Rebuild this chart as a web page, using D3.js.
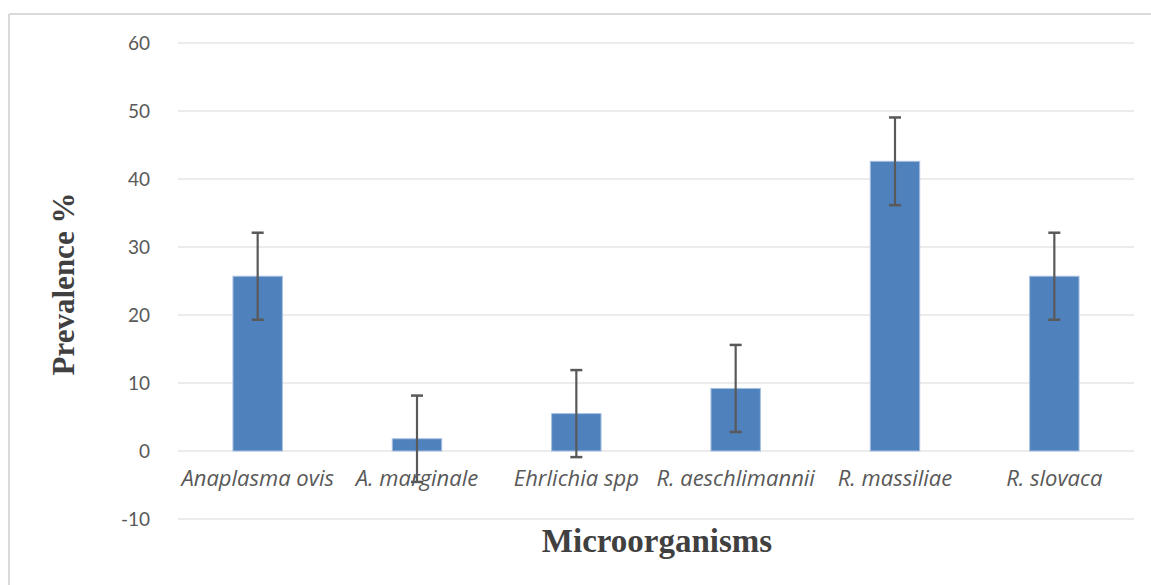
<!DOCTYPE html>
<html>
<head>
<meta charset="utf-8">
<script src="https://cdn.jsdelivr.net/npm/d3@7"></script>
<style>
  html, body { margin: 0; padding: 0; background: #fff; }
  svg { display: block; }
</style>
</head>
<body>
<svg id="chart" width="1151" height="585"></svg>
<script>
const categories = ["Anaplasma ovis", "A. marginale", "Ehrlichia spp", "R. aeschlimannii", "R. massiliae", "R. slovaca"];
const prevalence = [25.7, 1.8, 5.5, 9.2, 42.6, 25.7];
const errorMargin = [6.4, 6.35, 6.4, 6.4, 6.45, 6.4];
const yTicks = [-10, 0, 10, 20, 30, 40, 50, 60];
const xTitle = "Microorganisms";
const yTitle = "Prevalence %";

const svg = d3.select("#chart");
const W = 1151, H = 585;
const margin = { left: 178, right: 1134, top: 43, bottom: 519 };

// outer chart frame
svg.append("line").attr("x1", 9).attr("x2", W).attr("y1", 14).attr("y2", 14)
  .attr("stroke", "#d9d9d9").attr("stroke-width", 2);
svg.append("line").attr("x1", 9).attr("x2", 9).attr("y1", 14).attr("y2", H)
  .attr("stroke", "#d9d9d9").attr("stroke-width", 2);

const x = d3.scaleBand().domain(categories).range([margin.left, margin.right]).paddingInner(0.69).paddingOuter(0.345);
const y = d3.scaleLinear().domain([-10, 60]).range([margin.bottom, margin.top]);

// gridlines
svg.append("g").selectAll("line").data(yTicks).join("line")
  .attr("x1", margin.left).attr("x2", margin.right)
  .attr("y1", d => y(d)).attr("y2", d => y(d))
  .attr("stroke", "#d9d9d9").attr("stroke-width", 1);

// y axis labels
const yAxis = d3.axisLeft(y).tickValues(yTicks).tickSize(0).tickPadding(0).tickFormat(d => String(d));
const gy = svg.append("g").attr("transform", "translate(150,0)").call(yAxis);
gy.select(".domain").remove();
gy.selectAll("text").attr("font-family", "Lato, 'Open Sans', sans-serif").attr("font-size", 19)
  .attr("fill", "#595959");

// bars
svg.append("g").selectAll("rect").data(categories).join("rect")
  .attr("x", d => x(d))
  .attr("width", x.bandwidth())
  .attr("y", (d, i) => Math.min(y(prevalence[i]), y(0)))
  .attr("height", (d, i) => Math.abs(y(0) - y(prevalence[i])))
  .attr("fill", "#4f81bd")
  .attr("stroke", "#a7bfe0").attr("stroke-width", 1);

// error bars
const eg = svg.append("g").attr("stroke", "#595959").attr("stroke-width", 2.2);
categories.forEach((c, i) => {
  const cx = x(c) + x.bandwidth() / 2;
  const hi = y(prevalence[i] + errorMargin[i]);
  const lo = y(prevalence[i] - errorMargin[i]);
  eg.append("line").attr("x1", cx).attr("x2", cx).attr("y1", hi).attr("y2", lo);
  eg.append("line").attr("x1", cx - 6).attr("x2", cx + 6).attr("y1", hi).attr("y2", hi).attr("stroke-width", 2.5);
  eg.append("line").attr("x1", cx - 6).attr("x2", cx + 6).attr("y1", lo).attr("y2", lo).attr("stroke-width", 2.5);
});

// category labels
const xAxis = d3.axisBottom(x).tickSize(0).tickPadding(0);
const gx = svg.append("g").attr("transform", "translate(0,470)").call(xAxis);
gx.select(".domain").remove();
gx.selectAll("text").attr("font-family", "'Open Sans', Lato, sans-serif").attr("font-size", 22)
  .attr("font-style", "italic").attr("fill", "#595959");

// axis titles
svg.append("text").attr("x", 657).attr("y", 552).attr("text-anchor", "middle")
  .attr("font-family", "'Liberation Serif', 'Times New Roman', serif").attr("font-weight", "bold")
  .attr("font-size", 33).attr("fill", "#404040").text(xTitle);
svg.append("text").attr("transform", "translate(74,284) rotate(-90)").attr("text-anchor", "middle")
  .attr("font-family", "'Liberation Serif', 'Times New Roman', serif").attr("font-weight", "bold")
  .attr("font-size", 31).attr("fill", "#404040").text(yTitle);
</script>
</body>
</html>
